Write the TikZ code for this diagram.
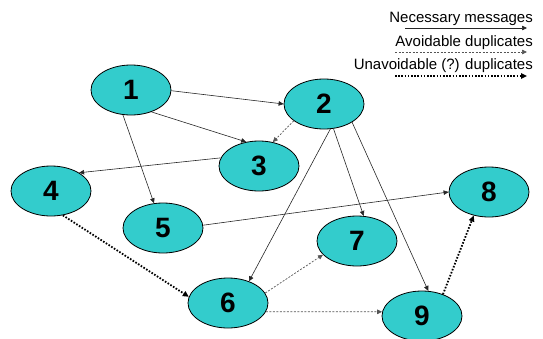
\documentclass[tikz,border=0pt]{standalone}
\usepackage{fontspec}
\setmainfont{Liberation Sans}
\usetikzlibrary{shapes.geometric,arrows.meta}
\definecolor{teal1}{HTML}{33CCCC}
\definecolor{dashgray}{HTML}{555555}
\tikzset{
  nd/.style={ellipse,draw=black,line width=0.8pt,fill=teal1,minimum width=80pt,minimum height=50pt,inner sep=0pt,font=\fontsize{28}{28}\selectfont\bfseries},
  tip/.style={-{Triangle[length=5pt,width=4.5pt]}},
  need/.style={tip,draw=black!85,line width=0.6pt},
  avoid/.style={tip,draw=dashgray,line width=0.7pt,dash pattern=on 2pt off 1.5pt},
  unavoid/.style={-{Triangle[length=6pt,width=5.5pt]},draw=black,line width=1.8pt,dash pattern=on 1.6pt off 1.6pt},
  leg/.style={anchor=base east,inner sep=0pt,font=\fontsize{15}{15}\selectfont}
}
\begin{document}
\begin{tikzpicture}[x=1pt,y=-1pt]
\useasboundingbox (0,0) rectangle (543,338);
\node[nd] (n1) at (131,90) {1};
\node[nd] (n2) at (324,104) {2};
\node[nd] (n3) at (259,166) {3};
\node[nd] (n4) at (51,191) {4};
\node[nd] (n5) at (163,228) {5};
\node[nd] (n6) at (228,303) {6};
\node[nd] (n7) at (357,241) {7};
\node[nd] (n8) at (489,192) {8};
\node[nd] (n9) at (422,316) {9};
% legend
\node[leg] (l1) at (533,22) {Necessary messages};
\node[leg] (l2) at (533,46) {Avoidable duplicates};
\node[leg] (l3) at (533,69) {Unavoidable (?) duplicates};
\coordinate (a1) at (405,28); \coordinate (b1) at (527,28);
\coordinate (a2) at (395,52); \coordinate (b2) at (527,52);
\coordinate (a3) at (395,76); \coordinate (b3) at (527,76);
\draw[need] (a1) -- (b1);
\draw[avoid] (a2) -- (b2);
\draw[unavoid,line width=1.5pt] (a3) -- (b3);
% necessary
\draw[need] (n1.-1) -- (n2.180);
\draw[need] (n1.-47) -- (n3.118);
\draw[need] (n1.252) -- (n5.110);
\draw[need] (n3.168) -- (n4.33);
\draw[need] (n2.-76) -- (n6.46);
\draw[need] (n2.-69) -- (n7.75);
\draw[need] (n2.-33) -- (n9.76);
\draw[need] (n5.4) -- (n8.180);
% avoidable
\draw[avoid] (n2.209) -- (n3.60);
\draw[avoid] (n6.15) -- (n7.202);
\draw[avoid] (n6.-13) -- (n9.174);
% unavoidable
\draw[unavoid] (n4.-64) -- (n6.171);
\draw[unavoid] (n9.46) -- (n8.237);
\end{tikzpicture}
\end{document}
